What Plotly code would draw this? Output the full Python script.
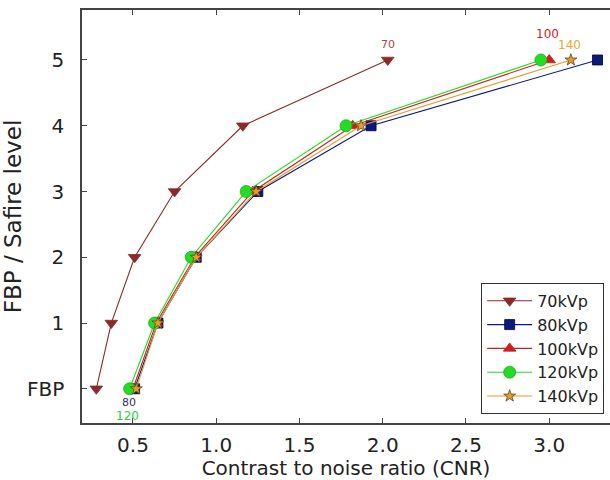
import plotly.graph_objects as go

levels = [0, 1, 2, 3, 4, 5]
level_labels = ["FBP", "1", "2", "3", "4", "5"]

cnr_70 = [0.28, 0.37, 0.51, 0.75, 1.16, 2.03]
cnr_80 = [0.51, 0.65, 0.88, 1.25, 1.93, 3.29]
cnr_100 = [0.50, 0.64, 0.87, 1.22, 1.82, 3.00]
cnr_120 = [0.48, 0.63, 0.85, 1.18, 1.78, 2.95]
cnr_140 = [0.52, 0.65, 0.88, 1.24, 1.87, 3.13]

series = [
    ("70kVp", cnr_70, "#8b2a2a", "triangle-down", 11, "#8b2a2a"),
    ("80kVp", cnr_80, "#0a1a7a", "square", 10, "#000040"),
    ("100kVp", cnr_100, "#cc1f1f", "triangle-up", 11, "#cc1f1f"),
    ("120kVp", cnr_120, "#22dd22", "circle", 12, "#22aa22"),
    ("140kVp", cnr_140, "#e0a030", "star", 9, "#704010"),
]

fig = go.Figure()
for name, xs, color, sym, size, edge in series:
    fig.add_trace(go.Scatter(
        x=xs, y=levels, mode="lines+markers", name=name,
        line=dict(color=color, width=1.1),
        marker=dict(symbol=sym, size=size, color=color,
                    line=dict(color=edge, width=0.8)),
    ))

# point labels
fig.add_annotation(x=cnr_70[-1], y=levels[-1], text="70", showarrow=False,
                   yshift=15, font=dict(size=11, color="#a04848"))
fig.add_annotation(x=cnr_100[-1], y=levels[-1], text="100", showarrow=False,
                   xshift=-2, yshift=26, font=dict(size=12, color="#cc1f1f"))
fig.add_annotation(x=cnr_140[-1], y=levels[-1], text="140", showarrow=False,
                   xshift=-1, yshift=15, font=dict(size=12, color="#e8a830"))
fig.add_annotation(x=cnr_80[0], y=levels[0], text="80", showarrow=False,
                   xshift=-6, yshift=-14, font=dict(size=11, color="#303070"))
fig.add_annotation(x=cnr_120[0], y=levels[0], text="120", showarrow=False,
                   xshift=-2, yshift=-27, font=dict(size=12, color="#33cc33"))

tick_font = dict(family="DejaVu Sans", size=20, color="#222")
fig.update_layout(
    width=610, height=480,
    margin=dict(l=82, r=0, t=10, b=57),
    paper_bgcolor="white", plot_bgcolor="white",
    font=dict(family="DejaVu Sans", color="#222"),
    legend=dict(x=0.756, y=0.022, xanchor="left", yanchor="bottom",
                bordercolor="#333", borderwidth=1, bgcolor="white",
                font=dict(size=16, family="DejaVu Sans"), itemwidth=45,
                tracegroupgap=0),
    showlegend=True,
)
fig.update_xaxes(
    range=[0.194, 3.365], tickvals=[0.5, 1.0, 1.5, 2.0, 2.5, 3.0],
    ticktext=["0.5", "1.0", "1.5", "2.0", "2.5", "3.0"],
    ticks="inside", ticklen=5, tickcolor="#444", showline=True,
    linecolor="#444", linewidth=1.5, mirror="ticks", showgrid=False,
    zeroline=False, tickfont=tick_font, ticklabelstandoff=3,
    title=dict(text="Contrast to noise ratio (CNR)",
               font=dict(family="DejaVu Sans", size=20, color="#222"), standoff=2),
)
fig.update_yaxes(
    range=[-0.52, 5.76], tickvals=levels, ticktext=level_labels,
    ticks="inside", ticklen=5, tickcolor="#444", showline=True,
    linecolor="#444", linewidth=1.5, showgrid=False, zeroline=False,
    tickfont=tick_font, ticklabelstandoff=12,
    title=dict(text="FBP / Safire level",
               font=dict(family="DejaVu Sans", size=23, color="#222"), standoff=8),
)
fig.write_html("out.html")
